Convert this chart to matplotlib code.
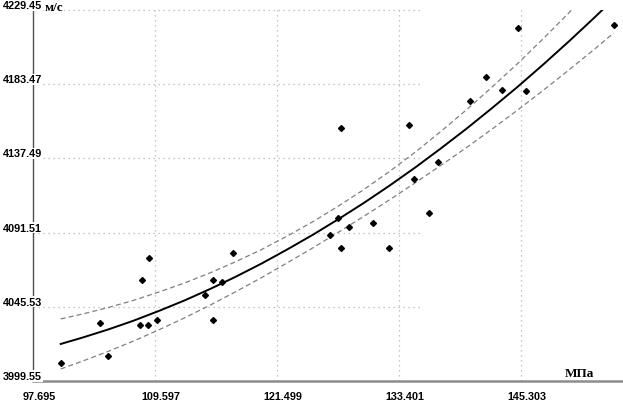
import matplotlib.pyplot as plt
from matplotlib import transforms

# measured points: pressure (MPa) vs speed (m/s)
pressure = [100.40, 104.24, 104.99, 108.14, 108.95, 109.77, 108.37, 108.99,
            114.46, 115.27, 115.27, 116.12, 117.25, 126.69, 127.44, 127.74,
            127.74, 128.55, 130.92, 132.42, 134.44, 134.87, 136.39, 137.21,
            140.36, 141.90, 143.46, 145.02, 145.83, 154.39]
speed = [4010.7, 4035.6, 4015.3, 4034.3, 4034.3, 4037.6, 4061.9, 4075.8,
         4052.6, 4061.9, 4037.6, 4060.6, 4078.6, 4089.8, 4100.8, 4081.8,
         4156.1, 4094.8, 4097.5, 4081.8, 4158.2, 4124.6, 4103.5, 4135.0,
         4173.1, 4187.8, 4179.9, 4218.1, 4179.1, 4220.1]

# regression curve and its band
fit_x = [100.4, 102.5, 105, 107.5, 110, 112.5, 115, 117.5, 120, 122.5, 125,
         127.5, 130, 132.5, 135, 137.5, 140, 142.5, 145, 147.5, 150, 152.5, 154.39]
fit_y = [4022.5, 4026.4, 4031.4, 4036.9, 4043.0, 4049.5, 4056.6, 4064.2,
         4072.3, 4081.0, 4090.1, 4099.8, 4109.9, 4120.6, 4131.8, 4143.6,
         4155.8, 4168.6, 4181.8, 4195.6, 4209.9, 4224.7, 4236.3]
fit_upper = [4038.0, 4041.0, 4045.0, 4049.5, 4054.7, 4060.3, 4066.6, 4073.5,
             4081.0, 4089.3, 4098.2, 4107.9, 4118.2, 4129.4, 4141.3, 4154.1,
             4167.5, 4181.6, 4196.2, 4211.6, 4227.6, 4244.3, 4257.4]
fit_lower = [4007.0, 4011.8, 4017.8, 4024.3, 4031.3, 4038.7, 4046.6, 4054.9,
             4063.6, 4072.7, 4082.0, 4091.7, 4101.6, 4111.8, 4122.3, 4133.1,
             4144.1, 4155.6, 4167.4, 4179.6, 4192.2, 4205.1, 4215.2]

x_ticks = [97.695, 109.597, 121.499, 133.401, 145.303]
x_labels = ["97.695", "109.597", "121.499", "133.401", "145.303"]
y_ticks = [3999.55, 4045.53, 4091.51, 4137.49, 4183.47, 4229.45]
y_labels = ["3999.55", "4045.53", "4091.51", "4137.49", "4183.47", "4229.45"]

W, H = 623, 406
fig = plt.figure(figsize=(W / 100, H / 100), dpi=100)
ax = fig.add_axes([33 / W, 24 / H, 590 / W, 371 / H])
ax.set_xlim(97.695, 155.30)
ax.set_ylim(3999.55, 4229.45)

grid_kw = dict(color="#b4b4b4", lw=0.9, linestyle=(0, (1, 3)), clip_on=False, zorder=1)
ax.vlines(x_ticks[1:], y_ticks[0], y_ticks[-1], **grid_kw)
ax.hlines(y_ticks[1:], x_ticks[0], 135.8, **grid_kw)

ax.plot(fit_x, fit_upper, color="#808080", lw=0.9, linestyle=(0, (4, 2.5)), zorder=2)
ax.plot(fit_x, fit_lower, color="#808080", lw=0.9, linestyle=(0, (4, 2.5)), zorder=2)
ax.plot(fit_x, fit_y, color="black", lw=1.4, zorder=3)
ax.plot(pressure, speed, "D", color="black", markersize=3, zorder=4)

ax.set_xticks([])
ax.set_yticks([])
for s in ["top", "right"]:
    ax.spines[s].set_visible(False)
ax.spines["left"].set_color("#505050")
ax.spines["left"].set_linewidth(1.0)
ax.spines["bottom"].set_color("#8c8c8c")
ax.spines["bottom"].set_linewidth(1.8)

num_font = dict(family="Liberation Sans", weight="bold", size=7.8)
ytrans = transforms.blended_transform_factory(fig.transFigure, ax.transData) + \
    transforms.ScaledTranslation(0, 5 / 100, fig.dpi_scale_trans)
for v, s in zip(y_ticks, y_labels):
    ax.text(3 / W, v, s, transform=ytrans, ha="left", va="center", clip_on=False,
            bbox=dict(facecolor="white", edgecolor="none", pad=0.5), zorder=5, **num_font)

xtrans = transforms.blended_transform_factory(ax.transData, ax.transAxes) + \
    transforms.ScaledTranslation(6 / 100, -15 / 100, fig.dpi_scale_trans)
for v, s in zip(x_ticks, x_labels):
    ax.text(v, 0, s, transform=xtrans, ha="center", va="center", clip_on=False, **num_font)

unit_font = dict(family="Liberation Serif", weight="bold", size=9.5)
fig.text(45 / W, 1 - 8 / H, "м/с", ha="left", va="center",
         bbox=dict(facecolor="white", edgecolor="none", pad=0.5), zorder=5, **unit_font)
fig.text(565 / W, 1 - 374 / H, "МПа", ha="left", va="center", **unit_font)

fig.savefig("out.png", dpi=100)
